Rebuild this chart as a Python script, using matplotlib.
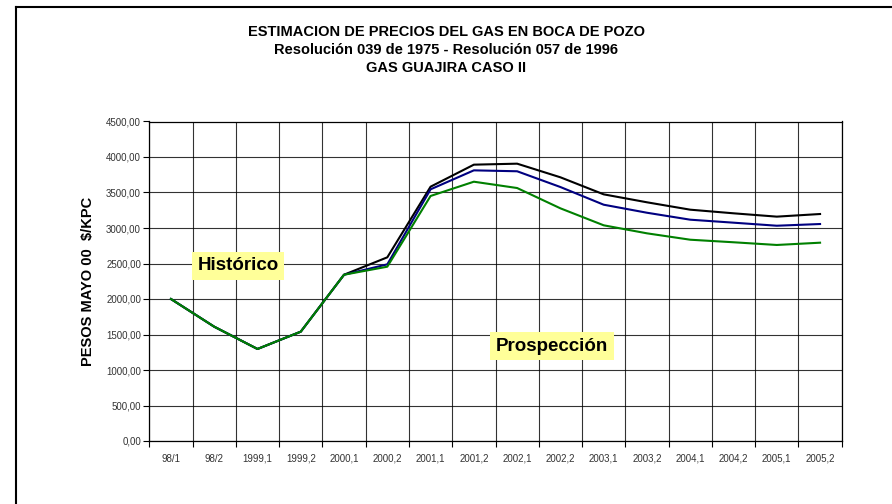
import matplotlib
matplotlib.use("Agg")
import matplotlib.pyplot as plt
from matplotlib.lines import Line2D
from matplotlib.ticker import FixedLocator, FuncFormatter

plt.rcParams['font.family'] = ['Liberation Sans', 'DejaVu Sans']

categories = ["98/1", "98/2", "1999,1", "1999,2", "2000,1", "2000,2", "2001,1", "2001,2",
              "2002,1", "2002,2", "2003,1", "2003,2", "2004,1", "2004,2", "2005,1", "2005,2"]
serie_negra = [2000, 1610, 1296, 1540, 2342, 2587, 3582, 3892,
               3906, 3714, 3474, 3362, 3258, 3207, 3160, 3197]
serie_azul = [2000, 1610, 1296, 1540, 2342, 2488, 3545, 3812,
              3799, 3577, 3328, 3215, 3117, 3075, 3032, 3056]
serie_verde = [2000, 1610, 1296, 1540, 2342, 2455, 3451, 3652,
               3563, 3277, 3038, 2925, 2835, 2799, 2761, 2793]
y_ticks = [0, 500, 1000, 1500, 2000, 2500, 3000, 3500, 4000, 4500]

W, H = 892, 504
fig = plt.figure(figsize=(W / 100, H / 100), dpi=100)
fig.patch.set_facecolor('white')

# outer frame (top and left edges visible)
fig.add_artist(Line2D([16 / W, 1.0], [1 - 7 / H, 1 - 7 / H], transform=fig.transFigure,
                      color='black', lw=1.5))
fig.add_artist(Line2D([16 / W, 16 / W], [0.0, 1 - 7 / H], transform=fig.transFigure,
                      color='black', lw=1.5))

left, right, top, bottom = 149.3, 841.7, 121.5, 441
ax = fig.add_axes([left / W, 1 - bottom / H, (right - left) / W, (bottom - top) / H])

x = list(range(len(categories)))
ax.plot(x, serie_negra, color='black', lw=1.5, zorder=3)
ax.plot(x, serie_azul, color='#000080', lw=1.5, zorder=4)
ax.plot(x, serie_verde, color='#008000', lw=1.5, zorder=5)

ax.set_xlim(-0.5, len(categories) - 0.5)
ax.set_ylim(0, 4500)

ax.set_xticks(x)
ax.set_xticklabels(categories, fontsize=7, color='#333333')
ax.xaxis.set_minor_locator(FixedLocator([i + 0.5 for i in range(-1, len(categories))]))
ax.tick_params(axis='x', which='major', length=0, pad=9)
ax.tick_params(axis='x', which='minor', length=4, width=0.8, direction='out', color='black')

ax.set_yticks(y_ticks)
ax.yaxis.set_major_formatter(FuncFormatter(lambda v, p: f"{v:.2f}".replace('.', ',')))
ax.tick_params(axis='y', which='major', length=4, width=0.8, direction='out',
               labelsize=7, labelcolor='#333333', pad=2)

ax.grid(True, which='major', axis='y', color='black', lw=0.8, alpha=0.8)
ax.grid(True, which='minor', axis='x', color='black', lw=0.8, alpha=0.8)
ax.set_axisbelow(True)
for s in ax.spines.values():
    s.set_color('black')
    s.set_linewidth(0.9)

ax.set_ylabel("PESOS MAYO 00  $/KPC", fontsize=10.5, fontweight='bold', labelpad=8)

fig.text(446 / W, 1 - 32 / H, "ESTIMACION DE PRECIOS DEL GAS EN BOCA DE POZO",
         ha='center', va='center', fontsize=10.5, fontweight='bold')
fig.text(446 / W, 1 - 50 / H, "Resolución 039 de 1975 - Resolución 057 de 1996",
         ha='center', va='center', fontsize=10.5, fontweight='bold')
fig.text(446 / W, 1 - 68 / H, "GAS GUAJIRA CASO II",
         ha='center', va='center', fontsize=10.5, fontweight='bold')

box = dict(boxstyle='square,pad=0.3', facecolor='#FFFF99', edgecolor='none')
ax.text(1.55, 2465, "Histórico", ha='center', va='center', fontsize=13.5,
        fontweight='bold', bbox=box, zorder=6)
ax.text(8.81, 1338, "Prospección", ha='center', va='center', fontsize=13.5,
        fontweight='bold', bbox=box, zorder=6)

fig.savefig("out.png", dpi=100)
